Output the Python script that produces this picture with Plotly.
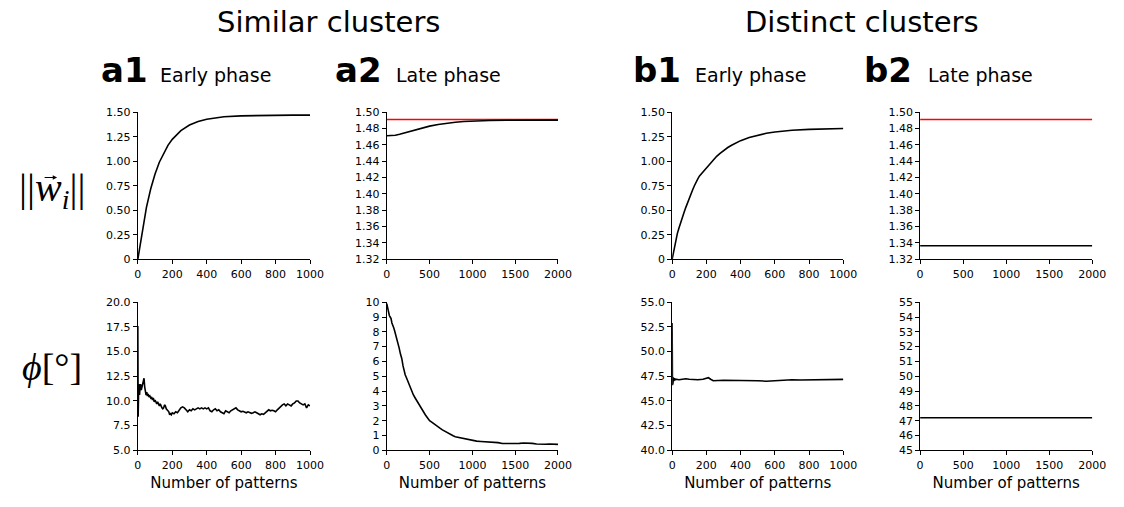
import plotly.graph_objects as go

W, H = 1124, 507

# ---------------- data ----------------
# Similar clusters, early phase: weight norm
a1_norm_x = [0, 25, 50, 75, 100, 125, 150, 175, 200, 250, 300, 350, 400, 450, 500, 600, 700, 800, 900, 1000]
a1_norm_y = [0.0, 0.29, 0.53, 0.72, 0.87, 0.99, 1.085, 1.162, 1.223, 1.312, 1.369, 1.405, 1.429, 1.444,
             1.453, 1.463, 1.467, 1.469, 1.470, 1.470]

# Similar clusters, late phase: weight norm and its reference level
a2_norm_x = [0, 50, 100, 150, 200, 300, 400, 500, 600, 700, 800, 900, 1000, 1200, 1400, 1600, 1800, 2000]
a2_norm_y = [1.4712, 1.4713, 1.4718, 1.4730, 1.4745, 1.4775, 1.4805, 1.4830, 1.4850, 1.4866, 1.4878,
             1.4887, 1.4893, 1.4899, 1.4902, 1.4903, 1.4903, 1.4903]
a2_ref_x = [0, 2000]
a2_ref_y = [1.4910, 1.4910]

# Distinct clusters, early phase: weight norm
b1_norm_x = [0, 10, 20, 30, 40, 50, 60, 70, 80, 90, 100, 110, 120, 130, 140, 150, 160, 170, 180, 190, 200,
             220, 240, 260, 280, 300, 325, 350, 375, 400, 450, 500, 550, 600, 650, 700, 800, 900, 1000]
b1_norm_y = [0.0, 0.10, 0.18, 0.26, 0.32, 0.38, 0.43, 0.48, 0.53, 0.58, 0.62, 0.67, 0.71, 0.75, 0.79, 0.82,
             0.85, 0.87, 0.89, 0.91, 0.935, 0.975, 1.015, 1.05, 1.08, 1.11, 1.14, 1.165, 1.19, 1.21, 1.243,
             1.265, 1.285, 1.298, 1.308, 1.316, 1.325, 1.331, 1.334]

# Distinct clusters, late phase: weight norm and its reference level
b2_norm_x = [0, 2000]
b2_norm_y = [1.3367, 1.3367]
b2_ref_x = [0, 2000]
b2_ref_y = [1.4910, 1.4910]

# Similar clusters, early phase: angle (degrees)
a1_phi_x = [0, 1, 2, 3, 4, 6, 8, 10, 13, 16, 20, 24, 28, 32, 36, 40, 44, 48, 52, 56, 60, 65, 70, 75, 80,
            85, 90, 95, 100, 105, 110, 115, 120, 125, 130, 135, 140, 145, 150, 155, 160, 165, 170, 175,
            180, 185, 190, 195, 200, 210, 220, 230, 240, 250, 260, 270, 280, 290, 300, 310, 320, 330,
            340, 350, 360, 370, 380, 390, 400, 410, 420, 430, 440, 450, 460, 470, 480, 490, 500, 510,
            520, 530, 540, 550, 560, 570, 580, 590, 600, 610, 620, 630, 640, 650, 660, 670, 680, 690,
            700, 710, 720, 730, 740, 750, 760, 770, 780, 790, 800, 810, 820, 830, 840, 850, 860, 870,
            880, 890, 900, 910, 920, 930, 940, 950, 960, 970, 980, 990, 1000]
a1_phi_y = [17.6, 12.0, 8.4, 9.5, 10.6, 11.7, 11.2, 10.6, 11.4, 11.7, 11.1, 11.5, 11.8, 12.2, 12.3, 11.4,
            10.8, 10.6, 10.9, 10.5, 10.7, 10.4, 10.5, 10.3, 10.4, 10.1, 10.3, 9.9, 10.1, 9.8, 9.7, 9.9,
            9.6, 9.5, 9.7, 9.4, 9.3, 9.2, 9.3, 9.6, 9.5, 9.2, 9.1, 9.0, 8.9, 8.6, 8.7, 8.6, 8.8, 8.7,
            8.9, 8.8, 9.1, 9.3, 9.4, 9.3, 9.1, 8.9, 9.1, 9.0, 9.2, 9.1, 9.2, 9.3, 9.2, 9.3, 9.2, 9.3,
            9.2, 9.3, 9.0, 8.9, 9.1, 9.2, 9.0, 9.1, 8.9, 8.8, 8.7, 9.0, 8.9, 8.8, 9.0, 9.1, 9.2, 9.3,
            9.1, 9.0, 8.9, 8.95, 8.9, 8.8, 8.9, 8.8, 8.75, 8.8, 8.9, 8.8, 8.7, 8.6, 8.7, 8.65, 8.8,
            9.0, 9.1, 9.0, 9.05, 9.0, 8.9, 9.1, 9.3, 9.4, 9.6, 9.7, 9.5, 9.7, 9.6, 9.5, 9.7, 9.8,
            10.0, 10.0, 9.8, 9.7, 9.6, 9.7, 9.3, 9.6, 9.5]

# Similar clusters, late phase: angle (degrees)
a2_phi_x = [0, 10, 20, 30, 40, 50, 60, 70, 80, 90, 100, 115, 130, 145, 160, 175, 190, 200, 215, 230,
            250, 270, 290, 310, 330, 350, 370, 390, 410, 430, 450, 475, 500, 525, 550, 575, 600, 625,
            650, 675, 700, 725, 750, 775, 800, 850, 900, 950, 1000, 1050, 1100, 1150, 1200, 1250, 1300,
            1350, 1400, 1450, 1500, 1550, 1600, 1650, 1700, 1750, 1800, 1850, 1900, 1950, 2000]
a2_phi_y = [9.9, 9.6, 9.5, 9.1, 9.0, 8.9, 8.6, 8.5, 8.3, 8.1, 7.9, 7.6, 7.2, 6.9, 6.5, 6.2, 5.7, 5.4,
            5.1, 4.9, 4.6, 4.3, 4.0, 3.75, 3.55, 3.35, 3.1, 2.9, 2.75, 2.55, 2.4, 2.2, 2.0, 1.9, 1.78,
            1.68, 1.58, 1.48, 1.38, 1.3, 1.2, 1.1, 1.02, 0.98, 0.92, 0.86, 0.8, 0.74, 0.66, 0.62, 0.6,
            0.58, 0.57, 0.56, 0.52, 0.46, 0.45, 0.46, 0.46, 0.47, 0.49, 0.5, 0.47, 0.43, 0.40, 0.41,
            0.43, 0.42, 0.40]

# Distinct clusters, early phase: angle (degrees)
b1_phi_x = [0, 1, 2, 3, 5, 7, 9, 12, 15, 20, 40, 60, 80, 100, 120, 150, 180, 200, 212, 225, 240, 300,
            350, 400, 450, 500, 550, 600, 650, 700, 750, 800, 850, 900, 950, 1000]
b1_phi_y = [52.9, 47.8, 46.6, 47.6, 46.8, 47.4, 47.0, 47.3, 47.1, 47.2, 47.15, 47.2, 47.25, 47.2, 47.15,
            47.15, 47.2, 47.25, 47.35, 47.2, 47.05, 47.1, 47.1, 47.05, 47.1, 47.05, 47.0, 47.05, 47.15,
            47.15, 47.12, 47.12, 47.18, 47.15, 47.12, 47.18]

# Distinct clusters, late phase: angle (degrees)
b2_phi_x = [0, 2000]
b2_phi_y = [47.2, 47.2]

# tick positions and labels
early_xticks = [0, 200, 400, 600, 800, 1000]
early_xlabels = ["0", "200", "400", "600", "800", "1000"]
late_xticks = [0, 500, 1000, 1500, 2000]
late_xlabels = ["0", "500", "1000", "1500", "2000"]

norm_early_yticks = [0, 0.25, 0.5, 0.75, 1.0, 1.25, 1.5]
norm_early_ylabels = ["0", "0.25", "0.50", "0.75", "1.00", "1.25", "1.50"]
norm_late_yticks = [1.32, 1.34, 1.36, 1.38, 1.40, 1.42, 1.44, 1.46, 1.48, 1.50]
norm_late_ylabels = ["1.32", "1.34", "1.36", "1.38", "1.40", "1.42", "1.44", "1.46", "1.48", "1.50"]

a1_phi_yticks = [5, 7.5, 10, 12.5, 15, 17.5, 20]
a1_phi_ylabels = ["5.0", "7.5", "10.0", "12.5", "15.0", "17.5", "20.0"]
a2_phi_yticks = [0, 1, 2, 3, 4, 5, 6, 7, 8, 9, 10]
a2_phi_ylabels = ["0", "1", "2", "3", "4", "5", "6", "7", "8", "9", "10"]
b1_phi_yticks = [40, 42.5, 45, 47.5, 50, 52.5, 55]
b1_phi_ylabels = ["40.0", "42.5", "45.0", "47.5", "50.0", "52.5", "55.0"]
b2_phi_yticks = [45, 46, 47, 48, 49, 50, 51, 52, 53, 54, 55]
b2_phi_ylabels = ["45", "46", "47", "48", "49", "50", "51", "52", "53", "54", "55"]

# ---------------- layout geometry (pixels) ----------------
col_px = [(136, 311), (389, 563), (679, 853), (931, 1106)]
row_px = [(109, 260), (304, 456)]

FONT = "DejaVu Sans"
MATH = "Liberation Serif"
BLACK = "#000000"
RED = "#ff0000"


def px_x(p):
    return p / W


def px_y(p):
    return 1 - p / H


panels = [
    # row, col, traces, xrange, xticks, xlabels, yrange, yticks, ylabels
    (0, 0, [(a1_norm_x, a1_norm_y, BLACK)], [0, 1000], early_xticks, early_xlabels,
     [0, 1.5], norm_early_yticks, norm_early_ylabels),
    (0, 1, [(a2_ref_x, a2_ref_y, RED), (a2_norm_x, a2_norm_y, BLACK)], [0, 2000], late_xticks, late_xlabels,
     [1.32, 1.50], norm_late_yticks, norm_late_ylabels),
    (0, 2, [(b1_norm_x, b1_norm_y, BLACK)], [0, 1000], early_xticks, early_xlabels,
     [0, 1.5], norm_early_yticks, norm_early_ylabels),
    (0, 3, [(b2_ref_x, b2_ref_y, RED), (b2_norm_x, b2_norm_y, BLACK)], [0, 2000], late_xticks, late_xlabels,
     [1.32, 1.50], norm_late_yticks, norm_late_ylabels),
    (1, 0, [(a1_phi_x, a1_phi_y, BLACK)], [0, 1000], early_xticks, early_xlabels,
     [5, 20], a1_phi_yticks, a1_phi_ylabels),
    (1, 1, [(a2_phi_x, a2_phi_y, BLACK)], [0, 2000], late_xticks, late_xlabels,
     [0, 10], a2_phi_yticks, a2_phi_ylabels),
    (1, 2, [(b1_phi_x, b1_phi_y, BLACK)], [0, 1000], early_xticks, early_xlabels,
     [40, 55], b1_phi_yticks, b1_phi_ylabels),
    (1, 3, [(b2_phi_x, b2_phi_y, BLACK)], [0, 2000], late_xticks, late_xlabels,
     [45, 55], b2_phi_yticks, b2_phi_ylabels),
]

fig = go.Figure()
layout_axes = {}

for i, (r, c, traces, xr, xt, xl, yr, yt, yl) in enumerate(panels):
    k = i + 1
    suffix = "" if k == 1 else str(k)
    for tx, ty, color in traces:
        fig.add_trace(go.Scatter(
            x=tx, y=ty, mode="lines",
            line=dict(color=color, width=1.6),
            xaxis="x" + suffix, yaxis="y" + suffix,
            showlegend=False, hoverinfo="skip",
        ))
    x0, x1 = col_px[c]
    y0, y1 = row_px[r]
    common = dict(
        showline=True, linecolor=BLACK, linewidth=1,
        ticks="outside", ticklen=4, tickwidth=1, tickcolor=BLACK,
        showgrid=False, zeroline=False, mirror=False,
        tickfont=dict(family=FONT, size=11, color=BLACK),
        fixedrange=True,
    )
    xaxis = dict(common, domain=[px_x(x0), px_x(x1)], range=xr, anchor="y" + suffix,
                 tickmode="array", tickvals=xt, ticktext=xl)
    if r == 1:
        xaxis["title"] = dict(text="Number of patterns", font=dict(family=FONT, size=15, color=BLACK),
                              standoff=6)
    yaxis = dict(common, domain=[px_y(y1), px_y(y0)], range=yr, anchor="x" + suffix,
                 tickmode="array", tickvals=yt, ticktext=yl)
    layout_axes["xaxis" + suffix] = xaxis
    layout_axes["yaxis" + suffix] = yaxis

annotations = []


def add_text(text, x, y, size, xanchor="center", family=FONT):
    annotations.append(dict(
        text=text, x=px_x(x), y=px_y(y), xref="paper", yref="paper",
        xanchor=xanchor, yanchor="middle", showarrow=False,
        font=dict(family=family, size=size, color=BLACK),
    ))


# group headers
add_text("Similar clusters", 330, 16, 29)
add_text("Distinct clusters", 872, 16, 29)

# panel letters and phase names
for letter, lx, phase, tx in [("a1", 97, "Early phase", 157), ("a2", 334, "Late phase", 396),
                              ("b1", 637, "Early phase", 700), ("b2", 872, "Late phase", 937)]:
    add_text("<b>" + letter + "</b>", lx, 66, 34, xanchor="left")
    add_text(phase, tx, 71, 19, xanchor="left")

# row labels: vector norm and angle
add_text("||<i>w</i><sub><i>i</i></sub>||", 49, 189, 40, family=MATH)
add_text("<i>\u03d5</i>[\u00b0]", 49, 370, 38, family=MATH)

# vector arrow over the w, drawn as an annotation arrow with no text
annotations.append(dict(
    text="", x=px_x(54), y=px_y(176), xref="paper", yref="paper",
    ax=-14, ay=0, axref="pixel", ayref="pixel",
    showarrow=True, arrowhead=2, arrowsize=0.8, arrowwidth=1.1, arrowcolor=BLACK,
))

fig.update_layout(
    width=W, height=H,
    margin=dict(l=0, r=0, t=0, b=0),
    paper_bgcolor="white", plot_bgcolor="white",
    annotations=annotations,
    **layout_axes,
)

fig.write_html("out.html")
